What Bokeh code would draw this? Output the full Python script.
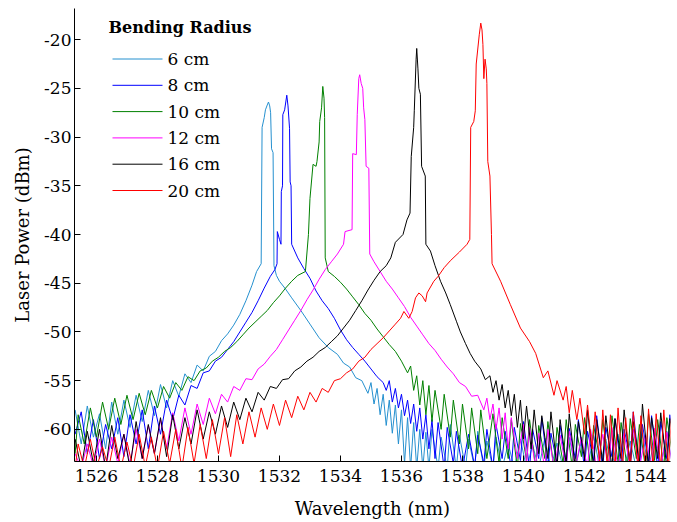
from bokeh.plotting import figure
from bokeh.models import FixedTicker, Range1d, NumeralTickFormatter, Label, Arrow
from bokeh.embed import file_html
from bokeh.resources import INLINE

# ---- data (wavelength nm, power dBm) ----
x_ticks = [1526, 1528, 1530, 1532, 1534, 1536, 1538, 1540, 1542, 1544]
y_ticks = [-60, -55, -50, -45, -40, -35, -30, -25, -20]

legend_title = "Bending Radius"
labels = ["6 cm", "8 cm", "10 cm", "12 cm", "16 cm", "20 cm"]
colors = ["#2590cf", "#0000ff", "#008000", "#ff00ff", "#000000", "#ff0000"]

spec_6cm = [
    (1525.3, -58.0), (1525.5, -61.5), (1525.7, -57.6), (1525.9, -60.8), (1526.1, -58.4), (1526.3, -62.0),
    (1526.5, -57.2), (1526.7, -60.5), (1526.9, -57.0), (1527.1, -59.8), (1527.3, -56.5), (1527.5, -59.2),
    (1527.7, -56.0), (1527.9, -58.6), (1528.1, -55.4), (1528.3, -57.8), (1528.5, -55.0), (1528.7, -56.6),
    (1528.9, -54.3), (1529.1, -55.2), (1529.3, -53.4), (1529.5, -54.0), (1529.7, -52.5), (1529.9, -52.0),
    (1530.1, -50.9), (1530.3, -50.2), (1530.5, -49.3), (1530.7, -48.2), (1530.9, -46.8), (1531.1, -45.2),
    (1531.25, -43.8), (1531.4, -43.0), (1531.43, -29.0), (1531.5, -28.0), (1531.54, -27.2), (1531.6, -26.7),
    (1531.64, -26.4), (1531.68, -26.8), (1531.71, -27.5), (1531.74, -31.2), (1531.79, -31.6), (1531.82, -43.2),
    (1531.9, -44.2), (1532.0, -44.8), (1532.2, -45.6), (1532.4, -46.5), (1532.7, -47.8), (1533.0, -49.2),
    (1533.3, -50.6), (1533.6, -51.6), (1533.9, -52.3), (1534.1, -53.2), (1534.3, -53.6), (1534.5, -54.7),
    (1534.7, -55.0), (1534.9, -56.3), (1535.0, -55.2), (1535.1, -57.4), (1535.2, -55.8), (1535.3, -58.5),
    (1535.4, -56.4), (1535.5, -59.6), (1535.6, -57.0), (1535.7, -60.4), (1535.8, -57.5), (1535.9, -61.5),
    (1536.0, -58.0), (1536.1, -63.5), (1536.2, -58.8), (1536.3, -64.0), (1536.4, -59.3), (1536.5, -64.0),
    (1536.6, -60.0), (1536.7, -64.0), (1536.8, -60.3), (1536.9, -64.0), (1537.0, -60.0), (1537.2, -64.0),
    (1537.3, -60.8), (1537.5, -64.0), (1537.6, -59.5), (1537.8, -64.0), (1537.9, -60.6), (1538.1, -64.0),
    (1538.2, -61.0), (1538.4, -64.0), (1538.5, -60.2), (1538.7, -64.0), (1538.8, -61.2), (1539.0, -64.0),
    (1539.1, -60.8), (1539.3, -64.0), (1539.5, -61.5), (1539.7, -64.0), (1539.9, -61.0), (1540.1, -64.0),
    (1540.3, -61.6), (1540.5, -64.0), (1540.7, -60.9), (1540.9, -64.0), (1541.1, -61.4), (1541.3, -64.0),
    (1541.5, -60.8), (1541.7, -64.0), (1541.9, -61.2), (1542.1, -64.0), (1542.3, -60.6), (1542.5, -64.0),
    (1542.7, -61.0), (1542.9, -64.0), (1543.1, -60.5), (1543.3, -64.0), (1543.5, -61.2), (1543.7, -64.0),
    (1543.9, -60.4), (1544.1, -64.0), (1544.3, -60.9), (1544.5, -64.0), (1544.7, -60.2), (1544.9, -64.0),
]

spec_8cm = [
    (1525.3, -60.5), (1525.5, -58.2), (1525.7, -62.5), (1525.9, -59.0), (1526.1, -63.0), (1526.3, -59.5),
    (1526.5, -62.0), (1526.7, -58.8), (1526.9, -62.8), (1527.1, -58.5), (1527.3, -61.5), (1527.5, -58.0),
    (1527.7, -62.0), (1527.9, -57.6), (1528.1, -60.5), (1528.3, -57.0), (1528.5, -59.0), (1528.7, -56.5),
    (1528.9, -57.5), (1529.1, -55.5), (1529.3, -55.8), (1529.5, -54.2), (1529.7, -54.0), (1529.9, -53.0),
    (1530.1, -52.6), (1530.3, -51.8), (1530.5, -51.0), (1530.7, -50.0), (1530.9, -49.0), (1531.1, -48.0),
    (1531.3, -46.8), (1531.5, -45.5), (1531.7, -44.3), (1531.85, -43.6), (1531.92, -43.0), (1531.93, -39.7),
    (1532.0, -40.5), (1532.05, -41.0), (1532.06, -35.6), (1532.1, -35.0), (1532.11, -27.7), (1532.17, -27.2),
    (1532.24, -25.7), (1532.28, -26.8), (1532.33, -29.1), (1532.35, -34.6), (1532.38, -35.0), (1532.4, -41.0),
    (1532.6, -42.4), (1532.8, -43.5), (1533.0, -44.5), (1533.2, -45.8), (1533.4, -46.8), (1533.6, -47.6),
    (1533.8, -48.6), (1534.0, -49.8), (1534.2, -50.8), (1534.4, -51.6), (1534.6, -52.3), (1534.8, -53.0),
    (1535.0, -53.8), (1535.2, -54.6), (1535.4, -55.2), (1535.5, -56.0), (1535.6, -55.0), (1535.7, -57.2),
    (1535.8, -55.8), (1535.9, -57.8), (1536.0, -56.4), (1536.1, -58.6), (1536.2, -57.0), (1536.3, -59.4),
    (1536.4, -57.4), (1536.5, -60.2), (1536.6, -57.8), (1536.7, -61.0), (1536.8, -58.5), (1536.9, -62.0),
    (1537.0, -59.0), (1537.1, -63.0), (1537.2, -59.3), (1537.4, -64.0), (1537.5, -59.8), (1537.7, -63.5),
    (1537.8, -60.2), (1538.0, -64.0), (1538.2, -60.5), (1538.4, -63.8), (1538.5, -60.6), (1538.7, -63.5),
    (1538.8, -60.0), (1539.0, -64.0), (1539.1, -59.5), (1539.3, -63.0), (1539.4, -60.2), (1539.6, -64.0),
    (1539.7, -59.8), (1539.9, -63.2), (1540.0, -59.2), (1540.2, -64.0), (1540.3, -60.0), (1540.5, -63.0),
    (1540.6, -58.8), (1540.8, -64.0), (1540.9, -60.4), (1541.1, -63.5), (1541.2, -59.6), (1541.4, -64.0),
    (1541.5, -59.9), (1541.7, -63.0), (1541.8, -59.0), (1542.0, -64.0), (1542.1, -60.2), (1542.3, -63.2),
    (1542.4, -58.6), (1542.6, -64.0), (1542.7, -59.8), (1542.9, -62.8), (1543.0, -58.9), (1543.2, -64.0),
    (1543.3, -60.0), (1543.5, -63.0), (1543.6, -58.2), (1543.8, -64.0), (1543.9, -59.5), (1544.1, -63.3),
    (1544.2, -58.6), (1544.4, -64.0), (1544.5, -59.2), (1544.7, -63.0), (1544.8, -58.5), (1545.0, -62.0),
]

spec_10cm = [
    (1525.3, -62.5), (1525.4, -58.5), (1525.6, -61.5), (1525.8, -57.8), (1526.0, -60.8), (1526.2, -57.2),
    (1526.4, -60.0), (1526.6, -56.8), (1526.8, -59.5), (1527.0, -56.5), (1527.2, -59.0), (1527.4, -56.3),
    (1527.6, -58.5), (1527.8, -56.0), (1528.0, -57.8), (1528.2, -55.6), (1528.4, -56.8), (1528.6, -55.2),
    (1528.8, -56.0), (1529.0, -54.6), (1529.2, -55.0), (1529.4, -54.0), (1529.6, -53.7), (1529.8, -53.0),
    (1530.0, -52.6), (1530.2, -52.0), (1530.4, -51.6), (1530.6, -51.0), (1530.8, -50.3), (1531.0, -49.6),
    (1531.2, -49.0), (1531.4, -48.4), (1531.6, -47.8), (1531.8, -47.0), (1532.0, -46.3), (1532.2, -45.5),
    (1532.4, -44.8), (1532.6, -44.2), (1532.85, -43.8), (1532.95, -40.0), (1533.0, -36.3), (1533.1, -32.8),
    (1533.2, -33.0), (1533.23, -32.5), (1533.3, -30.5), (1533.32, -28.4), (1533.38, -27.0), (1533.42, -24.8),
    (1533.46, -26.0), (1533.48, -28.0), (1533.5, -42.4), (1533.6, -43.8), (1533.8, -44.3), (1534.0, -44.9),
    (1534.2, -45.6), (1534.4, -46.4), (1534.6, -47.2), (1534.8, -48.1), (1535.0, -48.8), (1535.2, -49.7),
    (1535.4, -50.5), (1535.6, -51.3), (1535.8, -52.0), (1536.0, -53.0), (1536.2, -54.2), (1536.3, -53.5),
    (1536.4, -56.0), (1536.5, -54.5), (1536.6, -57.5), (1536.7, -55.0), (1536.8, -58.5), (1536.9, -55.5),
    (1537.0, -59.2), (1537.1, -56.0), (1537.3, -60.0), (1537.4, -56.4), (1537.6, -60.8), (1537.7, -57.0),
    (1537.9, -61.5), (1538.0, -57.4), (1538.2, -62.0), (1538.3, -57.8), (1538.5, -62.5), (1538.6, -58.0),
    (1538.8, -63.0), (1539.0, -58.4), (1539.2, -63.5), (1539.3, -58.8), (1539.5, -63.0), (1539.6, -59.0),
    (1539.8, -64.0), (1539.9, -59.4), (1540.1, -63.2), (1540.2, -59.0), (1540.4, -64.0), (1540.5, -59.6),
    (1540.7, -63.0), (1540.8, -59.2), (1541.0, -64.0), (1541.1, -59.8), (1541.3, -63.5), (1541.4, -59.0),
    (1541.6, -64.0), (1541.7, -59.5), (1541.9, -62.8), (1542.0, -58.8), (1542.2, -64.0), (1542.3, -59.6),
    (1542.5, -63.0), (1542.6, -59.0), (1542.8, -64.0), (1542.9, -58.6), (1543.1, -63.4), (1543.2, -59.3),
    (1543.4, -64.0), (1543.5, -58.9), (1543.7, -63.0), (1543.8, -59.5), (1544.0, -64.0), (1544.1, -58.4),
    (1544.3, -63.2), (1544.4, -59.0), (1544.6, -64.0), (1544.7, -58.8), (1544.9, -63.0),
]

spec_12cm = [
    (1525.3, -62.5), (1525.5, -64.0), (1525.7, -61.5), (1525.9, -63.8), (1526.1, -61.0), (1526.3, -64.0),
    (1526.5, -60.8), (1526.7, -63.5), (1526.9, -60.5), (1527.1, -63.6), (1527.3, -60.0), (1527.5, -63.0),
    (1527.7, -59.6), (1527.9, -62.5), (1528.1, -59.0), (1528.3, -62.0), (1528.5, -58.3), (1528.7, -61.2),
    (1528.9, -57.8), (1529.1, -60.5), (1529.3, -57.4), (1529.5, -59.5), (1529.7, -56.8), (1529.9, -58.4),
    (1530.1, -56.4), (1530.3, -57.2), (1530.5, -55.6), (1530.7, -56.0), (1530.9, -54.8), (1531.1, -54.9),
    (1531.3, -53.8), (1531.5, -53.3), (1531.7, -52.5), (1531.9, -51.8), (1532.1, -50.8), (1532.3, -49.8),
    (1532.5, -48.8), (1532.7, -47.8), (1532.9, -46.7), (1533.1, -45.7), (1533.3, -44.6), (1533.5, -43.6),
    (1533.7, -42.8), (1533.9, -42.0), (1534.1, -41.0), (1534.15, -39.7), (1534.38, -39.5), (1534.4, -31.7),
    (1534.52, -31.8), (1534.55, -27.7), (1534.6, -24.0), (1534.63, -23.6), (1534.68, -24.5), (1534.73, -25.0),
    (1534.76, -27.0), (1534.8, -28.2), (1534.84, -33.0), (1534.93, -33.2), (1534.96, -42.0), (1535.1, -42.8),
    (1535.3, -43.8), (1535.5, -44.8), (1535.7, -45.6), (1535.9, -46.5), (1536.1, -47.4), (1536.3, -48.5),
    (1536.5, -49.4), (1536.7, -50.3), (1536.9, -51.2), (1537.1, -51.9), (1537.3, -52.8), (1537.5, -53.6),
    (1537.7, -54.3), (1537.9, -55.2), (1538.1, -55.6), (1538.3, -56.6), (1538.5, -56.5), (1538.7, -58.0),
    (1538.8, -56.8), (1538.9, -59.0), (1539.0, -57.4), (1539.1, -60.0), (1539.2, -57.8), (1539.3, -61.0),
    (1539.4, -58.3), (1539.5, -62.0), (1539.6, -58.8), (1539.8, -63.0), (1540.0, -59.5), (1540.1, -63.5),
    (1540.2, -59.8), (1540.4, -64.0), (1540.5, -60.4), (1540.7, -64.0), (1540.8, -60.0), (1541.0, -64.0),
    (1541.2, -60.6), (1541.4, -64.0), (1541.5, -60.2), (1541.7, -64.0), (1541.9, -60.8), (1542.1, -64.0),
    (1542.2, -60.0), (1542.4, -64.0), (1542.6, -60.5), (1542.8, -64.0), (1542.9, -59.8), (1543.1, -64.0),
    (1543.3, -60.4), (1543.5, -64.0), (1543.6, -60.0), (1543.8, -64.0), (1544.0, -60.6), (1544.2, -64.0),
    (1544.3, -59.9), (1544.5, -64.0), (1544.7, -60.3), (1544.9, -64.0),
]

spec_16cm = [
    (1525.3, -61.0), (1525.5, -64.0), (1525.7, -60.2), (1525.9, -63.5), (1526.1, -60.0), (1526.3, -64.0),
    (1526.5, -59.6), (1526.7, -63.0), (1526.9, -60.5), (1527.1, -64.0), (1527.3, -59.2), (1527.5, -63.0),
    (1527.7, -59.5), (1527.9, -62.5), (1528.1, -58.8), (1528.3, -62.8), (1528.5, -58.5), (1528.7, -62.0),
    (1528.9, -58.8), (1529.1, -61.5), (1529.3, -58.0), (1529.5, -61.0), (1529.7, -58.2), (1529.9, -60.5),
    (1530.1, -57.6), (1530.3, -59.8), (1530.5, -57.2), (1530.7, -59.0), (1530.9, -56.8), (1531.1, -58.2),
    (1531.3, -56.2), (1531.5, -57.0), (1531.7, -55.6), (1531.9, -55.8), (1532.1, -54.9), (1532.3, -54.8),
    (1532.5, -54.0), (1532.7, -53.6), (1532.9, -53.0), (1533.1, -52.6), (1533.3, -52.0), (1533.5, -51.6),
    (1533.7, -51.0), (1533.9, -50.4), (1534.1, -49.6), (1534.3, -48.8), (1534.5, -47.8), (1534.7, -46.8),
    (1534.9, -45.7), (1535.1, -44.7), (1535.3, -43.8), (1535.5, -43.2), (1535.65, -42.4), (1535.8, -40.8),
    (1536.05, -40.0), (1536.18, -38.5), (1536.28, -37.8), (1536.32, -32.0), (1536.4, -29.0), (1536.42, -27.3),
    (1536.48, -22.0), (1536.5, -20.9), (1536.54, -23.0), (1536.57, -25.0), (1536.62, -25.6), (1536.66, -33.0),
    (1536.78, -34.0), (1536.8, -41.0), (1536.95, -41.7), (1537.1, -43.2), (1537.28, -44.8), (1537.45, -46.0),
    (1537.6, -47.2), (1537.8, -48.9), (1537.93, -50.0), (1538.1, -51.2), (1538.25, -52.2), (1538.4, -53.0),
    (1538.6, -53.8), (1538.75, -54.9), (1538.9, -54.5), (1539.0, -56.2), (1539.1, -55.0), (1539.2, -57.0),
    (1539.3, -55.4), (1539.4, -57.8), (1539.5, -56.0), (1539.6, -58.6), (1539.7, -56.4), (1539.8, -59.8),
    (1539.9, -57.0), (1540.0, -61.0), (1540.1, -57.6), (1540.25, -62.0), (1540.35, -58.0), (1540.5, -62.5),
    (1540.6, -58.6), (1540.8, -63.0), (1540.9, -58.2), (1541.1, -64.0), (1541.2, -59.0), (1541.4, -63.5),
    (1541.5, -58.4), (1541.7, -64.0), (1541.8, -59.2), (1542.0, -63.0), (1542.1, -58.0), (1542.3, -64.0),
    (1542.4, -59.0), (1542.6, -63.4), (1542.7, -58.6), (1542.9, -64.0), (1543.0, -58.9), (1543.2, -63.0),
    (1543.3, -58.0), (1543.5, -64.0), (1543.6, -59.2), (1543.8, -63.5), (1543.9, -57.4), (1544.1, -64.0),
    (1544.2, -58.8), (1544.4, -63.0), (1544.5, -58.3), (1544.7, -64.0), (1544.8, -58.9), (1545.0, -62.5),
]

spec_20cm = [
    (1525.3, -64.0), (1525.4, -61.5), (1525.6, -64.0), (1525.8, -61.0), (1526.0, -64.0), (1526.2, -61.8),
    (1526.4, -64.0), (1526.6, -60.8), (1526.8, -64.0), (1527.0, -61.3), (1527.2, -64.0), (1527.4, -60.5),
    (1527.6, -63.8), (1527.8, -60.8), (1528.0, -64.0), (1528.2, -60.2), (1528.4, -63.5), (1528.6, -60.0),
    (1528.8, -64.0), (1529.0, -59.8), (1529.2, -63.5), (1529.4, -59.5), (1529.6, -63.0), (1529.8, -59.0),
    (1530.0, -62.5), (1530.2, -58.8), (1530.4, -62.8), (1530.6, -58.5), (1530.8, -61.5), (1531.0, -58.2),
    (1531.2, -60.8), (1531.4, -57.8), (1531.6, -60.0), (1531.8, -57.4), (1532.0, -59.6), (1532.2, -57.0),
    (1532.4, -58.8), (1532.6, -56.6), (1532.8, -58.0), (1533.0, -56.2), (1533.2, -57.2), (1533.4, -55.8),
    (1533.6, -56.2), (1533.8, -55.0), (1534.0, -54.8), (1534.2, -54.2), (1534.4, -53.8), (1534.6, -53.0),
    (1534.8, -52.6), (1535.0, -51.8), (1535.2, -51.2), (1535.4, -50.6), (1535.6, -49.9), (1535.8, -49.2),
    (1535.97, -48.6), (1536.08, -47.9), (1536.24, -48.6), (1536.35, -47.9), (1536.46, -46.5), (1536.57, -46.0),
    (1536.68, -46.3), (1536.79, -46.9), (1536.84, -46.0), (1537.06, -44.8), (1537.2, -44.3), (1537.4, -43.4),
    (1537.6, -42.7), (1537.9, -41.8), (1538.15, -41.0), (1538.24, -40.5), (1538.27, -29.0), (1538.37, -28.4),
    (1538.42, -27.3), (1538.45, -22.5), (1538.55, -19.5), (1538.6, -18.3), (1538.64, -19.0), (1538.67, -20.5),
    (1538.7, -24.0), (1538.74, -22.0), (1538.78, -23.0), (1538.8, -24.5), (1538.83, -32.5), (1538.9, -34.0),
    (1538.95, -40.0), (1538.97, -43.0), (1539.25, -44.8), (1539.57, -47.2), (1539.9, -49.6), (1540.2, -51.0),
    (1540.4, -52.2), (1540.65, -54.7), (1540.8, -54.0), (1541.0, -56.5), (1541.1, -55.0), (1541.3, -57.0),
    (1541.4, -55.6), (1541.5, -58.3), (1541.6, -56.0), (1541.75, -59.0), (1541.85, -56.8), (1542.0, -60.5),
    (1542.1, -57.5), (1542.25, -62.0), (1542.35, -58.2), (1542.5, -63.5), (1542.6, -58.0), (1542.75, -64.0),
    (1542.85, -58.5), (1543.0, -64.0), (1543.1, -57.8), (1543.25, -64.0), (1543.35, -58.8), (1543.5, -64.0),
    (1543.6, -58.2), (1543.75, -64.0), (1543.85, -58.6), (1544.0, -64.0), (1544.1, -57.9), (1544.25, -64.0),
    (1544.35, -58.4), (1544.5, -64.0), (1544.6, -58.0), (1544.75, -64.0), (1544.85, -58.7), (1545.0, -63.0),
]

spectra = [spec_6cm, spec_8cm, spec_10cm, spec_12cm, spec_16cm, spec_20cm]

FONT = "DejaVu Serif"

p = figure(width=677, height=522, output_backend="svg", toolbar_location=None,
           x_range=Range1d(1525.28, 1544.82), y_range=Range1d(-63.3, -16.8),
           min_border_left=74, min_border_right=7, min_border_top=8, min_border_bottom=61,
           x_axis_label="Wavelength (nm)", y_axis_label="Laser Power (dBm)")
p.grid.visible = False
p.outline_line_color = None
p.background_fill_color = "white"
p.border_fill_color = "white"

p.xaxis.ticker = FixedTicker(ticks=x_ticks)
p.yaxis.ticker = FixedTicker(ticks=y_ticks)
p.yaxis.formatter = NumeralTickFormatter(format="0")
for ax in p.axis:
    ax.axis_line_color = "black"
    ax.axis_line_width = 1
    ax.major_tick_line_color = "black"
    ax.major_tick_in = 6
    ax.major_tick_out = 0
    ax.minor_tick_in = 0
    ax.minor_tick_out = 0
    ax.major_label_text_font = FONT
    ax.major_label_text_font_size = "17px"
    ax.major_label_text_color = "black"
    ax.axis_label_text_font = FONT
    ax.axis_label_text_font_size = "18px"
    ax.axis_label_text_font_style = "normal"
    ax.axis_label_text_color = "black"
p.xaxis.major_label_standoff = 8
p.yaxis.major_label_standoff = 3
p.xaxis.axis_label_standoff = 13
p.yaxis.axis_label_standoff = 8

for spec, col in zip(spectra, colors):
    xs = [pt[0] for pt in spec]
    ys = [pt[1] for pt in spec]
    p.line(xs, ys, line_color=col, line_width=1)

# ---- legend drawn as annotations (screen units, relative to the plot frame) ----
LEG_X, LEG_TITLE_Y, LEG_Y0, LEG_STEP, LEG_LINE = 34, 434, 402.5, 26.3, 50
p.add_layout(Label(x=LEG_X, y=LEG_TITLE_Y, x_units="screen", y_units="screen",
                   text=legend_title, text_font=FONT, text_font_style="bold",
                   text_font_size="16px", text_color="black", text_baseline="middle"))
for i, (lab, col) in enumerate(zip(labels, colors)):
    yy = LEG_Y0 - i * LEG_STEP
    p.add_layout(Arrow(end=None, x_start=LEG_X + 4, y_start=yy, x_end=LEG_X + 4 + LEG_LINE, y_end=yy,
                       start_units="screen", end_units="screen", line_color=col, line_width=1))
    p.add_layout(Label(x=LEG_X + 9 + LEG_LINE, y=yy, x_units="screen", y_units="screen",
                       text=lab, text_font=FONT, text_font_size="17px", text_color="black",
                       text_baseline="middle"))

open("out.html", "w").write(file_html(p, INLINE))
